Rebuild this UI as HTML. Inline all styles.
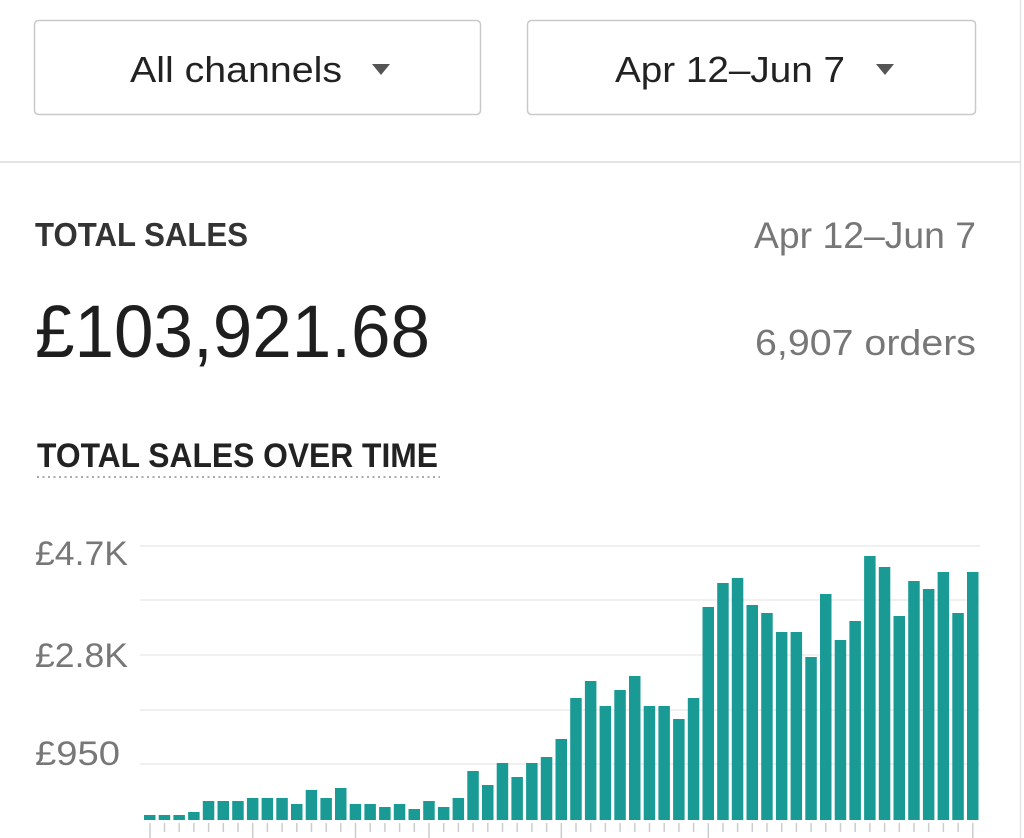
<!DOCTYPE html>
<html><head><meta charset="utf-8"><style>
html,body{margin:0;padding:0;background:#fff;width:1024px;height:838px;overflow:hidden}
svg{display:block}
</style></head><body>
<svg width="1024" height="838" viewBox="0 0 1024 838" xmlns="http://www.w3.org/2000/svg" font-family="Liberation Sans, sans-serif">
<rect width="1024" height="838" fill="#fff"/>
<line x1="1020.5" y1="0" x2="1020.5" y2="838" stroke="#e3e3e3" stroke-width="1.5"/>
<rect x="34.5" y="20.5" width="446" height="94" rx="4" fill="#fff" stroke="#c9c9c9" stroke-width="1.5"/>
<rect x="527.5" y="20.5" width="448" height="94" rx="4" fill="#fff" stroke="#c9c9c9" stroke-width="1.5"/>
<text x="130" y="82" font-size="36" fill="#222" textLength="212" lengthAdjust="spacingAndGlyphs">All channels</text>
<polygon points="372,64 390,64 381,75" fill="#555"/>
<text x="615" y="82" font-size="36" fill="#222" textLength="230" lengthAdjust="spacingAndGlyphs">Apr 12–Jun 7</text>
<polygon points="876,64 894,64 885,75" fill="#555"/>
<line x1="0" y1="162" x2="1020" y2="162" stroke="#dcdcdc" stroke-width="1.5"/>
<text x="35" y="246" font-size="33" font-weight="bold" fill="#333" textLength="213" lengthAdjust="spacingAndGlyphs">TOTAL SALES</text>
<text x="754" y="248" font-size="37" fill="#777" textLength="222" lengthAdjust="spacingAndGlyphs">Apr 12–Jun 7</text>
<text x="35" y="357" font-size="74" fill="#1e1e1e" textLength="395" lengthAdjust="spacingAndGlyphs">£103,921.68</text>
<text x="755" y="355" font-size="36" fill="#777" textLength="221" lengthAdjust="spacingAndGlyphs">6,907 orders</text>
<text x="37" y="467" font-size="34" font-weight="bold" fill="#222" textLength="401" lengthAdjust="spacingAndGlyphs">TOTAL SALES OVER TIME</text>
<line x1="37" y1="477" x2="440" y2="477" stroke="#aaa" stroke-width="2" stroke-dasharray="2,3.5"/>
<g font-size="34" fill="#777">
<text x="35" y="565" textLength="93" lengthAdjust="spacingAndGlyphs">£4.7K</text>
<text x="35" y="667" textLength="93" lengthAdjust="spacingAndGlyphs">£2.8K</text>
<text x="35" y="765" textLength="85" lengthAdjust="spacingAndGlyphs">£950</text>
</g>
<g stroke="#ececec" stroke-width="1.5">
<line x1="140" y1="546" x2="980" y2="546"/>
<line x1="140" y1="600" x2="980" y2="600"/>
<line x1="140" y1="655" x2="980" y2="655"/>
<line x1="140" y1="710" x2="980" y2="710"/>
<line x1="140" y1="764" x2="980" y2="764"/>
</g>
<g fill="#1a9a95">
<rect x="144.0" y="815" width="11.5" height="5"/>
<rect x="158.7" y="815" width="11.5" height="5"/>
<rect x="173.4" y="815" width="11.5" height="5"/>
<rect x="188.1" y="812" width="11.5" height="8"/>
<rect x="202.8" y="801" width="11.5" height="19"/>
<rect x="217.5" y="801" width="11.5" height="19"/>
<rect x="232.2" y="801" width="11.5" height="19"/>
<rect x="246.9" y="798" width="11.5" height="22"/>
<rect x="261.6" y="798" width="11.5" height="22"/>
<rect x="276.3" y="798" width="11.5" height="22"/>
<rect x="291.0" y="804" width="11.5" height="16"/>
<rect x="305.7" y="790" width="11.5" height="30"/>
<rect x="320.4" y="798" width="11.5" height="22"/>
<rect x="335.0" y="788" width="11.5" height="32"/>
<rect x="349.7" y="804" width="11.5" height="16"/>
<rect x="364.4" y="804" width="11.5" height="16"/>
<rect x="379.1" y="807" width="11.5" height="13"/>
<rect x="393.8" y="804" width="11.5" height="16"/>
<rect x="408.5" y="809" width="11.5" height="11"/>
<rect x="423.2" y="801" width="11.5" height="19"/>
<rect x="437.9" y="807" width="11.5" height="13"/>
<rect x="452.6" y="798" width="11.5" height="22"/>
<rect x="467.3" y="771" width="11.5" height="49"/>
<rect x="482.0" y="785" width="11.5" height="35"/>
<rect x="496.7" y="763" width="11.5" height="57"/>
<rect x="511.4" y="777" width="11.5" height="43"/>
<rect x="526.1" y="763" width="11.5" height="57"/>
<rect x="540.8" y="757" width="11.5" height="63"/>
<rect x="555.5" y="739" width="11.5" height="81"/>
<rect x="570.2" y="698" width="11.5" height="122"/>
<rect x="584.9" y="681" width="11.5" height="139"/>
<rect x="599.6" y="706" width="11.5" height="114"/>
<rect x="614.3" y="690" width="11.5" height="130"/>
<rect x="629.0" y="676" width="11.5" height="144"/>
<rect x="643.7" y="706" width="11.5" height="114"/>
<rect x="658.4" y="706" width="11.5" height="114"/>
<rect x="673.1" y="719" width="11.5" height="101"/>
<rect x="687.8" y="698" width="11.5" height="122"/>
<rect x="702.5" y="607" width="11.5" height="213"/>
<rect x="717.2" y="583" width="11.5" height="237"/>
<rect x="731.8" y="578" width="11.5" height="242"/>
<rect x="746.5" y="605" width="11.5" height="215"/>
<rect x="761.2" y="613" width="11.5" height="207"/>
<rect x="775.9" y="632" width="11.5" height="188"/>
<rect x="790.6" y="632" width="11.5" height="188"/>
<rect x="805.3" y="657" width="11.5" height="163"/>
<rect x="820.0" y="594" width="11.5" height="226"/>
<rect x="834.7" y="640" width="11.5" height="180"/>
<rect x="849.4" y="621" width="11.5" height="199"/>
<rect x="864.1" y="556" width="11.5" height="264"/>
<rect x="878.8" y="567" width="11.5" height="253"/>
<rect x="893.5" y="616" width="11.5" height="204"/>
<rect x="908.2" y="581" width="11.5" height="239"/>
<rect x="922.9" y="589" width="11.5" height="231"/>
<rect x="937.6" y="572" width="11.5" height="248"/>
<rect x="952.3" y="613" width="11.5" height="207"/>
<rect x="967.0" y="572" width="11.5" height="248"/>
</g>
<path stroke="#cccccc" stroke-width="1.5" fill="none" d="M150,823V838 M164.5,823V832 M179.2,823V832 M193.9,823V832 M208.6,823V832 M223.3,823V832 M238,823V832 M252.7,823V838 M267.4,823V832 M282.1,823V832 M296.8,823V832 M311.5,823V832 M326.2,823V832 M340.8,823V832 M355.5,823V838 M370.2,823V832 M384.9,823V832 M399.6,823V832 M414.3,823V832 M429,823V838 M443.7,823V832 M458.4,823V832 M473.1,823V832 M487.8,823V832 M502.5,823V832 M517.2,823V832 M531.9,823V832 M546.6,823V832 M561.3,823V838 M576,823V832 M590.7,823V832 M605.4,823V832 M620.1,823V832 M634.8,823V832 M649.5,823V832 M664.2,823V832 M678.9,823V832 M693.6,823V832 M708.3,823V838 M723,823V832 M737.6,823V832 M752.3,823V832 M767,823V832 M781.7,823V832 M796.4,823V832 M811.1,823V832 M825.8,823V832 M840.5,823V832 M855.2,823V832 M869.9,823V832 M884.6,823V832 M899.3,823V832 M914,823V832 M928.7,823V832 M943.4,823V832 M958.1,823V832 M972.8,823V838"/>
</svg>
</body></html>
